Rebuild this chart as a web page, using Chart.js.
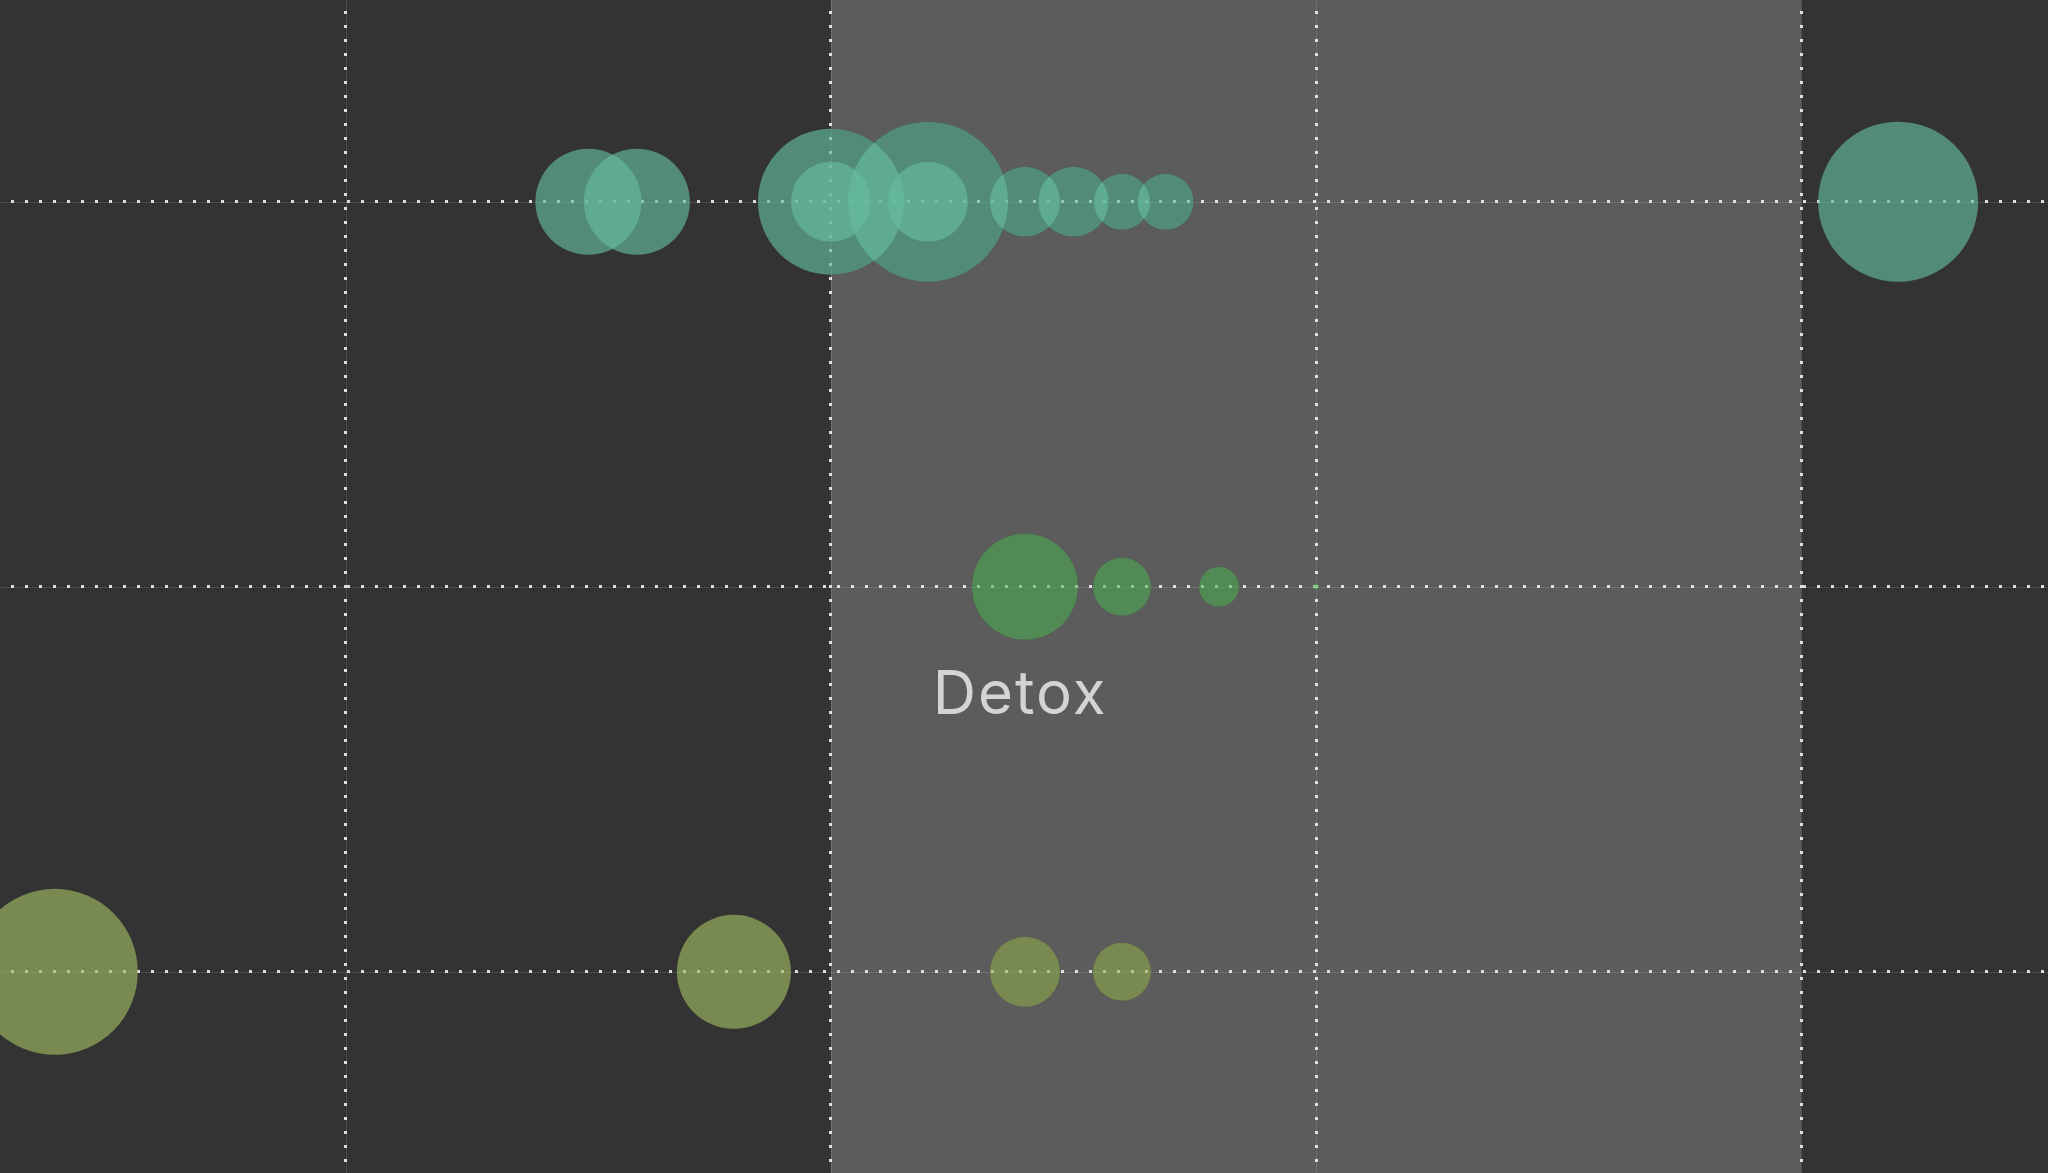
<!DOCTYPE html>
<html lang="en">
<head>
  <meta charset="UTF-8">
  <title>Bubble rows</title>
  <script src="https://cdn.jsdelivr.net/npm/chart.js"></script>
  <style>
    html, body {
      margin: 0;
      padding: 0;
      background: #333333;
      overflow: hidden;
    }
    #wrap {
      width: 100vw;
      height: 100vh;
    }
  </style>
</head>
<body>
  <div id="wrap"><canvas id="chart"></canvas></div>

  <script>
    // axis ticks and range
    const xTicks = [0, 1, 2, 3];
    const yTicks = [1, 2, 3];
    const xRange = [-0.713, 3.509];
    const yRange = [0.4775, 3.524];
    const bandRange = [1, 3];

    // top row (teal)
    const tealY = 3;
    const tealX = [0.5, 0.6, 1.0, 1.2, 1.4, 1.5, 1.6, 1.69, 3.2];
    const tealR = [53, 53, 73, 80, 35, 35, 28, 28, 80];
    // smaller bubbles sitting inside the big ones
    const tealInnerX = [1.0, 1.2];
    const tealInnerR = [40, 40];

    // middle row (green)
    const greenY = 2;
    const greenX = [1.4, 1.6, 1.8, 2.0];
    const greenR = [53, 29, 20, 3];

    // bottom row (olive)
    const oliveY = 1;
    const oliveX = [-0.6, 0.8, 1.4, 1.6];
    const oliveR = [83, 57, 35, 29];

    const labelText = 'Detox';
    const labelPos = [1.39, 1.67];

    const bgColor = '#333333';
    const bandColor = '#5c5c5c';

    function points(xs, rs, y) {
      return xs.map((x, i) => ({ x: x, y: y, r: rs[i] }));
    }

    const backdrop = {
      id: 'backdrop',
      beforeDraw(chart) {
        const ctx = chart.ctx;
        const xs = chart.scales.x, ys = chart.scales.y;
        const a = chart.chartArea;
        ctx.save();
        ctx.fillStyle = bgColor;
        ctx.fillRect(0, 0, chart.width, chart.height);
        const x0 = xs.getPixelForValue(bandRange[0]);
        const x1 = xs.getPixelForValue(bandRange[1]);
        ctx.fillStyle = bandColor;
        ctx.fillRect(x0, a.top, x1 - x0, a.bottom - a.top);
        // the bubbles read the same on the band as off it: put a dark disc under each one
        ctx.fillStyle = bgColor;
        chart.data.datasets.forEach((ds, i) => {
          chart.getDatasetMeta(i).data.forEach(el => {
            ctx.beginPath();
            ctx.arc(el.x, el.y, el.options.radius, 0, Math.PI * 2);
            ctx.fill();
          });
        });
        // faint solid line under the dotted grid
        ctx.strokeStyle = 'rgba(255,255,255,0.12)';
        ctx.lineWidth = 1;
        ctx.beginPath();
        xTicks.forEach(v => {
          const p = Math.round(xs.getPixelForValue(v)) + 0.5;
          ctx.moveTo(p, a.top);
          ctx.lineTo(p, a.bottom);
        });
        yTicks.forEach(v => {
          const p = Math.round(ys.getPixelForValue(v)) + 0.5;
          ctx.moveTo(a.left, p);
          ctx.lineTo(a.right, p);
        });
        ctx.stroke();
        ctx.restore();
      },
      afterDatasetsDraw(chart) {
        const ctx = chart.ctx;
        ctx.save();
        ctx.font = '60px Inter, "Open Sans", sans-serif';
        if (ctx.letterSpacing !== undefined) ctx.letterSpacing = '2px';
        ctx.fillStyle = '#d4d4d4';
        ctx.textAlign = 'center';
        ctx.textBaseline = 'alphabetic';
        ctx.fillText(labelText,
          chart.scales.x.getPixelForValue(labelPos[0]),
          chart.scales.y.getPixelForValue(labelPos[1]));
        ctx.restore();
      }
    };

    const gridStyle = {
      color: 'rgba(240,240,240,0.9)',
      lineWidth: 3,
      drawTicks: false
    };

    new Chart(document.getElementById('chart'), {
      type: 'bubble',
      data: {
        datasets: [
          { data: points(tealX, tealR, tealY), backgroundColor: 'rgba(102,188,160,0.65)' },
          { data: points(tealInnerX, tealInnerR, tealY), backgroundColor: 'rgba(102,188,160,0.65)' },
          { data: points(greenX, greenR, greenY), backgroundColor: 'rgba(100,186,106,0.65)' },
          { data: points(oliveX, oliveR, oliveY), backgroundColor: 'rgba(160,186,97,0.65)' }
        ]
      },
      options: {
        responsive: true,
        maintainAspectRatio: false,
        animation: false,
        layout: { padding: 0, autoPadding: false },
        elements: { point: { borderWidth: 0, hoverBorderWidth: 0 } },
        plugins: {
          legend: { display: false },
          tooltip: { enabled: false }
        },
        scales: {
          x: {
            type: 'linear',
            min: xRange[0],
            max: xRange[1],
            afterBuildTicks: s => { s.ticks = xTicks.map(v => ({ value: v })); },
            ticks: { display: false },
            border: { display: false, dash: [3, 11], dashOffset: 3 },
            grid: gridStyle
          },
          y: {
            type: 'linear',
            min: yRange[0],
            max: yRange[1],
            afterBuildTicks: s => { s.ticks = yTicks.map(v => ({ value: v })); },
            ticks: { display: false },
            border: { display: false, dash: [3, 11], dashOffset: 3 },
            grid: gridStyle
          }
        }
      },
      plugins: [backdrop]
    });
  </script>
</body>
</html>
